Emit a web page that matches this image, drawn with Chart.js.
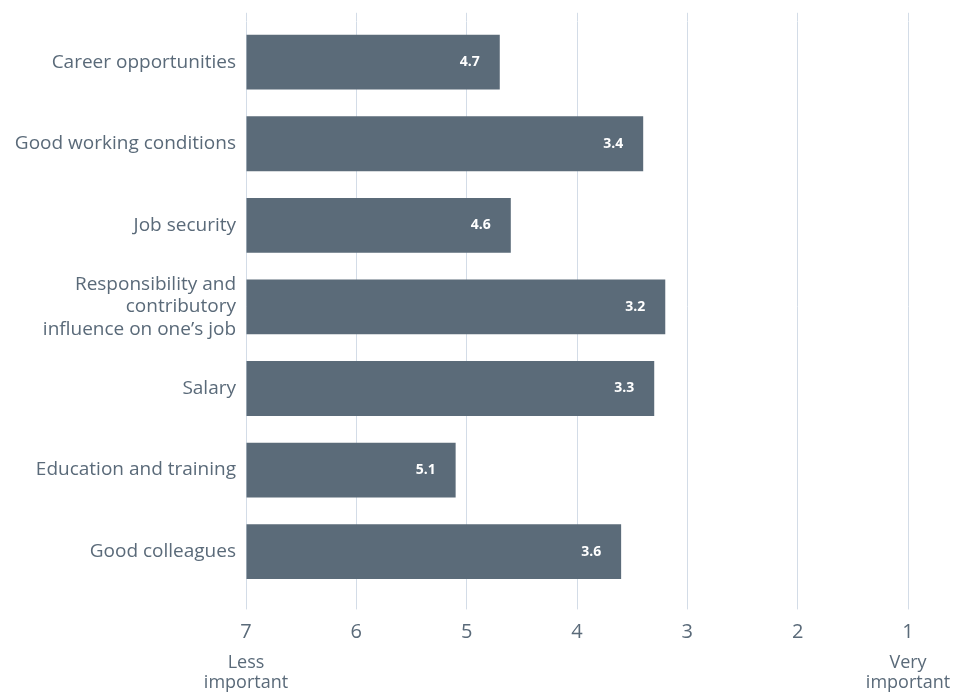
<!DOCTYPE html>
<html>
<head>
<meta charset="utf-8">
<script src="https://cdn.jsdelivr.net/npm/chart.js@4/dist/chart.umd.min.js"></script>
<style>
  html, body { margin: 0; padding: 0; background: #fff; }
  #wrap { width: 976px; height: 695px; }
</style>
</head>
<body>
<div id="wrap"><canvas id="rankChart"></canvas></div>
<script>
const factors = [
  "Career opportunities",
  "Good working conditions",
  "Job security",
  ["Responsibility and", "contributory", "influence on one\u2019s job"],
  "Salary",
  "Education and training",
  "Good colleagues",
];
const avgRank = [4.7, 3.4, 4.6, 3.2, 3.3, 5.1, 3.6];
const rankTicks = [7, 6, 5, 4, 3, 2, 1];
const endLabels = { 7: ["Less", "important"], 1: ["Very", "important"] };

const textColor = "#5a6a79";
const barColor = "#5b6b79";
const gridColor = "#d3dce7";
const fontFamily = "'Open Sans', sans-serif";

// white value text just inside the end of each bar
const barValues = {
  id: "barValues",
  afterDatasetsDraw(chart) {
    const ctx = chart.ctx;
    const meta = chart.getDatasetMeta(0);
    ctx.save();
    ctx.font = "bold 14px " + fontFamily;
    ctx.fillStyle = "#ffffff";
    ctx.textAlign = "right";
    ctx.textBaseline = "middle";
    meta.data.forEach((bar, i) => {
      ctx.fillText(avgRank[i].toFixed(1), bar.x - 20, bar.y);
    });
    ctx.restore();
  },
};

const ctx = document.getElementById("rankChart").getContext("2d");
new Chart(ctx, {
  type: "bar",
  data: {
    labels: factors,
    datasets: [
      {
        data: avgRank,
        base: 7,
        backgroundColor: barColor,
        barPercentage: 0.672,
        categoryPercentage: 1,
      },
    ],
  },
  options: {
    indexAxis: "y",
    responsive: true,
    maintainAspectRatio: false,
    animation: false,
    layout: {
      padding: { top: 11, right: 68, bottom: 0, left: 0 },
    },
    plugins: {
      legend: { display: false },
      tooltip: { enabled: false },
    },
    scales: {
      y: {
        grid: { display: false, drawTicks: false },
        border: { display: false },
        ticks: {
          color: textColor,
          font: { family: fontFamily, size: 19, lineHeight: 1.2 },
          padding: 10,
        },
        afterFit: (scale) => {
          scale.width = 246;
        },
      },
      x: {
        type: "linear",
        reverse: true,
        min: 1,
        max: 7,
        grid: { color: gridColor, tickLength: 17, tickColor: gridColor },
        border: { display: false },
        afterBuildTicks: (scale) => {
          scale.ticks = rankTicks.map((v) => ({ value: v }));
        },
        ticks: {
          color: textColor,
          font: { family: fontFamily, size: 20, lineHeight: 1.2 },
          padding: 11,
          autoSkip: false,
          maxRotation: 0,
        },
        afterFit: (scale) => {
          scale.height = 52;
        },
      },
      // short tick marks above the plot
      xTop: {
        type: "linear",
        position: "top",
        reverse: true,
        min: 1,
        max: 7,
        grid: {
          drawOnChartArea: false,
          tickLength: 8.6,
          color: gridColor,
          tickColor: gridColor,
        },
        border: { display: false },
        afterBuildTicks: (scale) => {
          scale.ticks = rankTicks.map((v) => ({ value: v }));
        },
        ticks: { display: false },
        afterFit: (scale) => {
          scale.height = 8.6;
        },
      },
      // "Less important" / "Very important" under the end ticks
      xEnds: {
        type: "linear",
        position: "bottom",
        weight: 1,
        reverse: true,
        min: 1,
        max: 7,
        grid: { display: false },
        border: { display: false },
        afterBuildTicks: (scale) => {
          scale.ticks = [{ value: 7 }, { value: 1 }];
        },
        ticks: {
          color: textColor,
          font: { family: fontFamily, size: 18, lineHeight: 1.1 },
          padding: 1,
          autoSkip: false,
          maxRotation: 0,
          callback: (v) => endLabels[v] || "",
        },
        afterFit: (scale) => {
          scale.height = 50.6;
        },
      },
    },
  },
  plugins: [barValues],
});
</script>
</body>
</html>
